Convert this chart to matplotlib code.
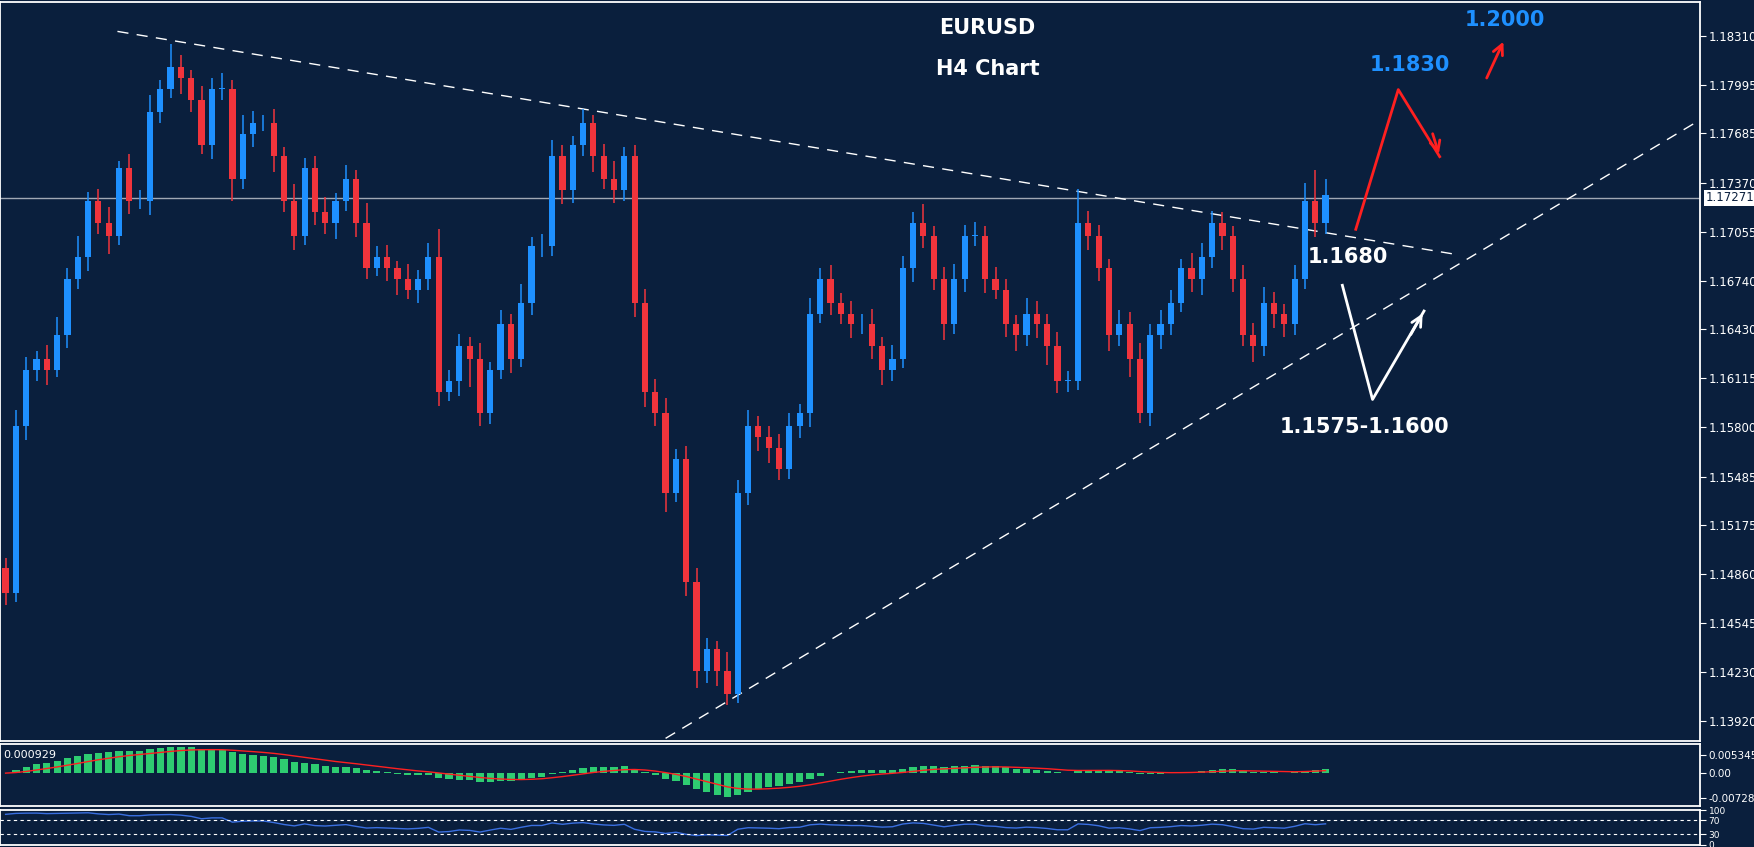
import numpy as np
import matplotlib
matplotlib.use("Agg")
import matplotlib.pyplot as plt
from matplotlib.patches import Rectangle

closes = [1.1474,1.1581,1.1617,1.1624,1.1617,1.1639,1.1675,1.1689,1.1725,1.1711,
          1.1703,1.1746,1.1725,1.1725,1.1782,1.1797,1.1811,1.1804,1.1790,1.1761,
          1.1797,1.1797,1.1739,1.1768,1.1775,1.1775,1.1754,1.1725,1.1703,1.1746,
          1.1718,1.1711,1.1725,1.1739,1.1711,1.1682,1.1689,1.1682,1.1675,1.1668,
          1.1675,1.1689,1.1603,1.1610,1.1632,1.1624,1.1589,1.1617,1.1646,1.1624,
          1.1660,1.1696,1.1696,1.1754,1.1732,1.1761,1.1775,1.1754,1.1739,1.1732,
          1.1754,1.1660,1.1603,1.1589,1.1538,1.1560,1.1481,1.1424,1.1438,1.1424,
          1.1409,1.1538,1.1581,1.1574,1.1567,1.1553,1.1581,1.1589,1.1653,1.1675,
          1.1660,1.1653,1.1646,1.1646,1.1632,1.1617,1.1624,1.1682,1.1711,1.1703,
          1.1675,1.1646,1.1675,1.1703,1.1703,1.1675,1.1668,1.1646,1.1639,1.1653,
          1.1646,1.1632,1.1610,1.1610,1.1711,1.1703,1.1682,1.1639,1.1646,1.1624,
          1.1589,1.1639,1.1646,1.1660,1.1682,1.1675,1.1689,1.1711,1.1703,1.1675,
          1.1639,1.1632,1.1660,1.1653,1.1646,1.1675,1.1725,1.1711,1.1729]
first_open = 1.1490
up_wick = [6,10,8,5,9,12,7,14,6,8,10,5,9,7,11,6,15,8,5,9,
           7,10,6,12,8,5,9,6,11,7,8,10,5,9,6,13,7,8,5,10,
           6,9,18,7,8,6,10,5,9,7,12,6,8,10,7,6,9,5,8,12,
           6,7,9,8,10,6,8,9,7,5,12,8,10,6,7,9,8,6,10,7,
           9,6,8,7,10,6,9,8,7,12,6,8,10,7,9,6,8,7,6,10,
           8,7,9,6,22,8,7,6,9,8,10,7,9,8,6,10,9,8,7,6,
           9,8,10,7,6,9,12,20,10]
down_wick = [8,6,9,7,10,5,8,6,9,7,12,6,8,5,9,7,6,10,8,6,
             9,7,14,6,8,5,10,7,9,6,8,7,10,6,9,7,5,8,10,6,
             8,7,9,6,10,18,8,7,6,9,5,8,7,6,9,8,7,10,6,8,
             7,9,10,8,12,6,9,11,8,10,7,6,8,9,10,7,6,8,9,6,
             8,7,9,6,8,10,7,6,9,8,7,10,6,8,7,9,6,8,10,7,
             9,12,8,7,6,9,8,10,7,12,6,8,9,7,6,8,10,7,9,8,
             7,10,6,9,8,7,6,9,7]
current_price = 1.17271
price_ticks = [1.18310,1.17995,1.17685,1.17370,1.17055,1.16740,1.16430,1.16115,
               1.15800,1.15485,1.15175,1.14860,1.14545,1.14230,1.13920]

BG = "#0a1f3d"
UP = "#1e90ff"
DN = "#f0343c"
W, H = 1568.0, 757.0
N = len(closes)
step = 1180.0 / (N - 1)
xs = 5 + np.arange(N) * step

fig = plt.figure(figsize=(17.54, 8.47), dpi=100, facecolor=BG)
ax = fig.add_axes([0, 1 - 662/H, 1520/W, 660/H], facecolor=BG)
axm = fig.add_axes([0, 1 - 720/H, 1520/W, 55/H], facecolor=BG)
axr = fig.add_axes([0, 2/H, 1520/W, 31/H], facecolor=BG)

opens = [first_open] + closes[:-1]
for i in range(N):
    o, c = opens[i], closes[i]
    col = UP if c >= o else DN
    hi = max(o, c) + up_wick[i] * 1e-4
    lo = min(o, c) - down_wick[i] * 1e-4
    ax.vlines(xs[i], lo, hi, color=col, lw=1.1, zorder=3)
    ax.add_patch(Rectangle((xs[i] - step*0.3, min(o, c)), step*0.6, max(abs(c - o), 0.00003),
                           facecolor=col, edgecolor=col, lw=0, zorder=4))

for a in (ax, axm, axr):
    a.set_xlim(0, 1520)
    a.set_xticks([])
    for s in a.spines.values():
        s.set_color("white"); s.set_linewidth(1.3)
    a.yaxis.tick_right()
    a.tick_params(axis="y", colors="white", labelsize=8.5, length=4, direction="out", pad=2)

ax.set_ylim(1.13791, 1.18526)
ax.set_yticks(price_ticks)
ax.set_yticklabels([f"{t:.5f}" for t in price_ticks])
ax.axhline(current_price, color="#a0a8b4", lw=1)
ax.text(1.003, current_price, f"{current_price:.5f}", transform=ax.get_yaxis_transform(),
        va="center", ha="left", fontsize=8.5, color="#0a1f3d",
        bbox=dict(facecolor="white", edgecolor="none", pad=1.2))

ax.plot([105, 1305], [1.18339, 1.16905], color="white", lw=1, ls=(0, (8, 6)))
ax.plot([595, 1515], [1.13806, 1.17751], color="white", lw=1, ls=(0, (8, 6)))

ax.plot([1212, 1250, 1287], [1.17070, 1.17966, 1.17536], color="#ff2020", lw=2)
ax.annotate("", xy=(1287, 1.17536), xytext=(1280, 1.17700),
            arrowprops=dict(arrowstyle="->", color="#ff2020", lw=2, mutation_scale=18))
ax.annotate("", xy=(1345, 1.18289), xytext=(1328, 1.18024),
            arrowprops=dict(arrowstyle="->", color="#ff2020", lw=2, mutation_scale=18))
ax.plot([1200, 1227, 1273], [1.16711, 1.15979, 1.16546], color="white", lw=2)
ax.annotate("", xy=(1273, 1.16546), xytext=(1260, 1.16380),
            arrowprops=dict(arrowstyle="->", color="white", lw=2, mutation_scale=18))

tk = dict(fontsize=15, fontweight="bold", ha="center", va="center")
ax.text(883, 1.18361, "EURUSD", color="white", **tk)
ax.text(883, 1.18095, "H4 Chart", color="white", **tk)
ax.text(1345, 1.18411, "1.2000", color="#1e90ff", **tk)
ax.text(1260, 1.18124, "1.1830", color="#1e90ff", **tk)
ax.text(1205, 1.16890, "1.1680", color="white", **tk)
ax.text(1220, 1.15800, "1.1575-1.1600", color="white", **tk)

cl = np.array(closes)
def ema(x, n):
    k = 2 / (n + 1); out = np.empty_like(x); out[0] = x[0]
    for j in range(1, len(x)):
        out[j] = out[j-1] + k * (x[j] - out[j-1])
    return out
macd = ema(cl, 12) - ema(cl, 26)
sig = ema(macd, 9)
axm.bar(xs, macd, width=step*0.7, color="#2ecc71")
axm.plot(xs, sig, color="#ff2020", lw=1)
axm.set_ylim(-0.0095, 0.0085)
axm.set_yticks([0.005345, 0.0, -0.00728])
axm.set_yticklabels(["0.005345", "0.00", "-0.00728"])
axm.tick_params(axis="y", labelsize=7.5)
axm.text(0.002, 0.83, "0.000929", transform=axm.transAxes, color="white", fontsize=8, va="center")

d = np.diff(cl)
g = np.where(d > 0, d, 0); l = np.where(d < 0, -d, 0)
ag = ema(np.concatenate([[g[:14].mean()], g]), 27)
al = ema(np.concatenate([[l[:14].mean()], l]), 27)
rsi = 100 - 100 / (1 + ag / np.maximum(al, 1e-9))
axr.plot(xs, rsi, color="#3a6fe0", lw=1)
axr.axhline(70, color="white", lw=0.8, ls=(0, (3, 3)))
axr.axhline(30, color="white", lw=0.8, ls=(0, (3, 3)))
axr.set_ylim(0, 100)
axr.set_yticks([100, 70, 30, 0])
axr.tick_params(axis="y", labelsize=6.5)

fig.savefig("out.png", dpi=100, facecolor=BG)
